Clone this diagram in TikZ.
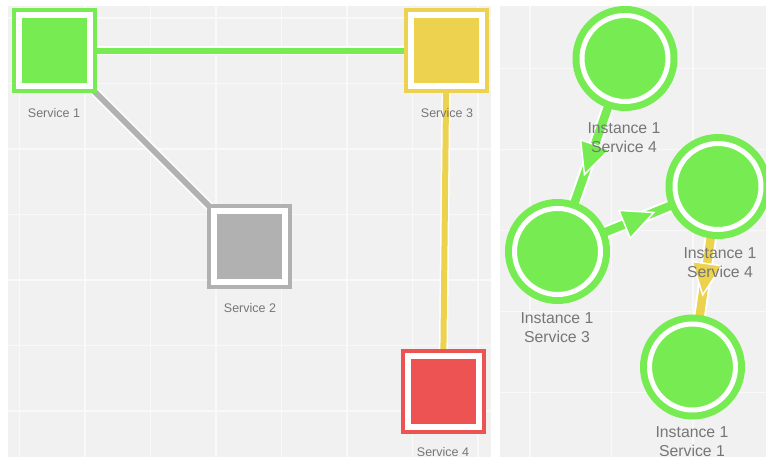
\documentclass[tikz,border=0pt]{standalone}
\usepackage{fontspec}
\setmainfont{Liberation Sans}
\usetikzlibrary{arrows.meta,decorations.markings}

\definecolor{svcgreen}{HTML}{77EC52}
\definecolor{svcyellow}{HTML}{ECD24E}
\definecolor{svcgray}{HTML}{B1B1B1}
\definecolor{svcred}{HTML}{EE5353}
\definecolor{panelbg}{HTML}{F1F1F1}
\definecolor{gridcol}{HTML}{F9F9F9}
\definecolor{labelgray}{HTML}{767676}

\pgfdeclarelayer{bg}
\pgfdeclarelayer{edges}
\pgfsetlayers{bg,edges,main}

\begin{document}
\begin{tikzpicture}[x=1pt,y=-1pt,
  service/.style={rectangle, minimum size=71pt, inner sep=0pt,
    line width=4pt, double distance=6pt, draw=#1, double=white, fill=#1},
  instance/.style={circle, minimum size=86pt, inner sep=0pt,
    line width=7pt, double distance=5pt, draw=svcgreen, double=white, fill=svcgreen},
  svclabel/.style={text=labelgray, inner sep=0pt,
    font=\fontsize{12.5}{15}\selectfont},
  instlabel/.style={text=labelgray, inner sep=0pt, align=center,
    font=\fontsize{15.8}{19}\selectfont},
  link/.style={line width=6pt, draw=#1,
    preaction={draw=white, line width=9pt}},
  flow/.style={line width=8.5pt, draw=#1,
    preaction={draw=white, line width=12.5pt},
    postaction={decorate, decoration={markings,
      mark=at position 0.61 with {\arrow{Triangle[length=34pt,width=32pt,
        fill=#1,color=white,line width=1.5pt]}}}}},
  gridline/.style={gridcol, line width=1.5pt}]

\useasboundingbox (0,0) rectangle (766,457);
\clip (0,0) rectangle (766,457);

% panels and their grids
\begin{pgfonlayer}{bg}
  \fill[white] (0,0) rectangle (766,457);
  \fill[panelbg] (8,6) rectangle (491,457);
  \fill[panelbg] (500,6) rectangle (766,457);
  \foreach \k in {0,...,7}
    \draw[gridline] ({19.5+65.5*\k},6) -- ({19.5+65.5*\k},457);
  \foreach \k in {0,...,6}
    \draw[gridline] (8,{18+65.5*\k}) -- (491,{18+65.5*\k});
  \foreach \k in {0,1,2}
    \draw[gridline] ({530+81.5*\k},6) -- ({530+81.5*\k},457);
  \foreach \k in {0,...,4}
    \draw[gridline] (500,{68.5+81*\k}) -- (766,{68.5+81*\k});
\end{pgfonlayer}

% services
\node[service=svcgreen]  (s1) at (54,51) {};
\node[service=svcyellow] (s3) at (446.5,51) {};
\node[service=svcgray]   (s2) at (249.5,246.5) {};
\node[service=svcred]    (s4) at (443,391) {};

\node[svclabel] (s1lbl) at (54,113) {Service 1};
\node[svclabel] (s3lbl) at (447,113) {Service 3};
\node[svclabel] (s2lbl) at (250,308) {Service 2};
\node[svclabel] (s4lbl) at (443,452) {Service 4};

% instances
\node[instance] (ia) at (625,58.5) {};
\node[instance] (ib) at (557.5,251.5) {};
\node[instance] (ic) at (718,186.5) {};
\node[instance] (id) at (692.5,367) {};

% connectors
\begin{pgfonlayer}{edges}
  \draw[link=svcgreen]  (s1.center) -- (s3.center);
  \draw[link=svcgray]   (s1.center) -- (s2.center);
  \draw[link=svcyellow] (s3.center) -- (s4.center);
  \draw[flow=svcgreen]  (ia.center) -- (ib.center);
  \draw[flow=svcgreen]  (ib.center) -- (ic.center);
  \draw[flow=svcyellow] (ic.center) -- (id.center);
\end{pgfonlayer}

\node[instlabel] (ialbl) at (624,138)   {Instance 1\\Service 4};
\node[instlabel] (iclbl) at (720,262.5) {Instance 1\\Service 4};
\node[instlabel] (iblbl) at (557,328)   {Instance 1\\Service 3};
\node[instlabel] (idlbl) at (692,441.5) {Instance 1\\Service 1};
\end{tikzpicture}
\end{document}
